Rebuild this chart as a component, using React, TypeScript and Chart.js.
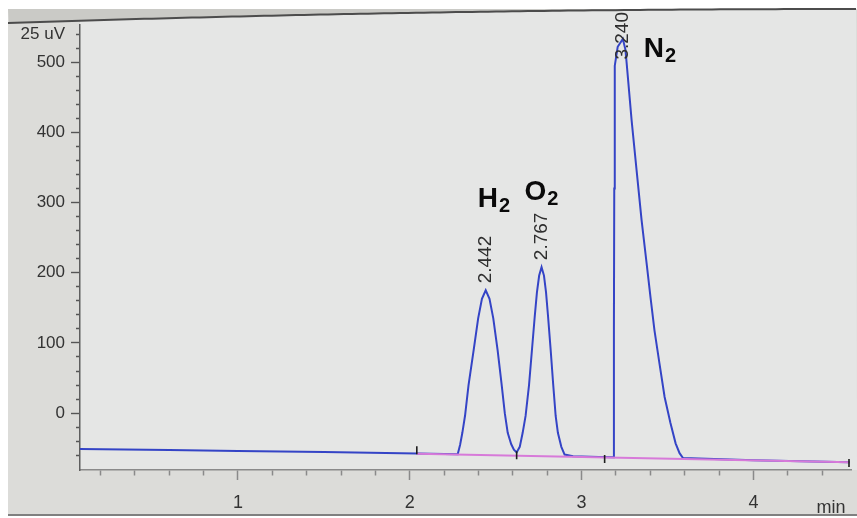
import React, { useEffect, useRef } from 'react';
import { Chart, registerables } from 'chart.js';

Chart.register(...registerables);

// Detector trace (retention time in min, signal in the instrument's display units)
const traceTimes = [
  0.081, 0.6, 1.0, 1.5, 2.041, 2.279,
  2.293, 2.306, 2.322, 2.342, 2.372, 2.398, 2.42, 2.442, 2.464, 2.486, 2.511, 2.534, 2.553, 2.57, 2.59, 2.606, 2.622,
  2.64, 2.657, 2.674, 2.694, 2.711, 2.727, 2.74, 2.753, 2.767, 2.781, 2.793, 2.805, 2.82, 2.834, 2.849, 2.862, 2.882, 2.901,
  2.95, 3.1, 3.186,
  3.188, 3.19, 3.193, 3.21, 3.24, 3.255, 3.262, 3.291, 3.32, 3.349, 3.378, 3.401, 3.424, 3.453, 3.483, 3.517, 3.547, 3.57, 3.59,
  4.0, 4.56,
];
const traceValues = [
  -51, -52.5, -54, -55.5, -57.5, -58.5,
  -45, -28, -3, 40, 90, 135, 163, 175, 163, 135, 90, 42, 0, -28, -44, -52, -56,
  -48, -28, -4, 40, 90, 137, 172, 196, 208, 196, 172, 137, 90, 43, -4, -28, -48, -59,
  -61.5, -62.5, -63,
  120, 320, 495, 522, 533, 518, 499, 417, 346, 275, 214, 165, 118, 71, 23, -14, -43, -57, -64,
  -67, -70,
];

// Integration baseline
const baselineTimes = [2.041, 4.56];
const baselineValues = [-58, -70];

// Integration event marks
const eventTimes = [2.041, 2.622, 3.134, 4.556];
const eventValues = [-53, -60, -65.5, -71];

// Identified peaks
const peakTimes = [2.442, 2.767, 3.24];
const peakHeights = [175, 208, 533];
const peakNames = ['H', 'O', 'N'];
const peakSubscripts = ['2', '2', '2'];

// Axis text
const yUnitLabel = '25 uV';
const yUnitTick = 540;
const xUnitLabel = 'min';

const FONT = '"Liberation Sans", Arial, sans-serif';
const W = 857;
const H = 518;

// top edge of the screen bezel, slightly tilted
const bezelY = (x: number) => {
  const t = Math.min(Math.max((x - 8) / 849, 0), 1);
  return 23 - 14 * (1 - (1 - t) * (1 - t));
};

const backdrop = {
  id: 'backdrop',
  beforeDraw(chart: any) {
    const { ctx, chartArea } = chart;
    ctx.save();
    ctx.fillStyle = '#ffffff';
    ctx.fillRect(0, 0, W, H);
    // screen panel
    ctx.fillStyle = '#dcdcd9';
    ctx.fillRect(8, 9, W - 8, 507);
    // plot panel, from the bezel line down to the axis
    ctx.fillStyle = '#e5e6e5';
    ctx.beginPath();
    ctx.moveTo(chartArea.left, bezelY(chartArea.left));
    for (let x = chartArea.left; x <= W; x += 8) ctx.lineTo(x, bezelY(x));
    ctx.lineTo(W, chartArea.bottom);
    ctx.lineTo(chartArea.left, chartArea.bottom);
    ctx.closePath();
    ctx.fill();
    // bezel band above the frame line
    ctx.fillStyle = '#cacac6';
    ctx.beginPath();
    ctx.moveTo(8, 9);
    ctx.lineTo(W, 9);
    for (let x = W; x >= 8; x -= 8) ctx.lineTo(x, bezelY(x));
    ctx.closePath();
    ctx.fill();
    // frame line
    ctx.strokeStyle = '#4c4c4c';
    ctx.lineWidth = 2;
    ctx.beginPath();
    for (let x = 8; x <= W; x += 8) {
      if (x === 8) ctx.moveTo(x, bezelY(x));
      else ctx.lineTo(x, bezelY(x));
    }
    ctx.stroke();
    // bottom edge
    ctx.strokeStyle = '#808080';
    ctx.lineWidth = 2;
    ctx.beginPath();
    ctx.moveTo(8, 515);
    ctx.lineTo(W, 515);
    ctx.stroke();
    ctx.restore();
  },
};

const peakText = {
  id: 'peakText',
  afterDatasetsDraw(chart: any) {
    const { ctx } = chart;
    const xs = chart.scales.x;
    const ys = chart.scales.y;
    const nameOffsets = [
      [-8, -83],
      [-17, -67],
      [21, 18],
    ];
    ctx.save();
    peakTimes.forEach((t, i) => {
      const px = xs.getPixelForValue(t);
      const py = ys.getPixelForValue(peakHeights[i]);
      // retention time, rotated, above the apex
      const txt = t.toFixed(3);
      ctx.font = `19px ${FONT}`;
      const len = ctx.measureText(txt).width;
      let start = py - 7;
      if (start - len < 12) start = 12 + len;
      ctx.save();
      ctx.translate(px, start);
      ctx.rotate(-Math.PI / 2);
      ctx.textAlign = 'left';
      ctx.textBaseline = 'middle';
      ctx.fillStyle = '#2e2e2e';
      ctx.fillText(txt, 0, 0);
      ctx.restore();
      // compound name with subscript
      const [dx, dy] = nameOffsets[i];
      const nx = px + dx;
      const ny = py + dy;
      ctx.fillStyle = '#0a0a0a';
      ctx.textAlign = 'left';
      ctx.textBaseline = 'alphabetic';
      ctx.font = `bold 28px ${FONT}`;
      ctx.fillText(peakNames[i], nx, ny);
      const w = ctx.measureText(peakNames[i]).width;
      ctx.font = `bold 20px ${FONT}`;
      ctx.fillText(peakSubscripts[i], nx + w + 1, ny + 5);
    });
    // time unit at the end of the ruler
    ctx.font = `18px ${FONT}`;
    ctx.fillStyle = '#333333';
    ctx.textAlign = 'right';
    ctx.textBaseline = 'middle';
    ctx.fillText(xUnitLabel, xs.right - 6, 508);
    ctx.restore();
  },
};

export default function App() {
  const canvasRef = useRef<HTMLCanvasElement | null>(null);

  useEffect(() => {
    if (!canvasRef.current) return;
    const chart = new Chart(canvasRef.current, {
      type: 'line',
      data: {
        datasets: [
          {
            type: 'scatter',
            data: eventTimes.map((t, i) => ({ x: t, y: eventValues[i] })),
            pointStyle: 'line',
            rotation: 90,
            pointRadius: 4,
            borderColor: '#1e1e1e',
            borderWidth: 1.6,
            showLine: false,
          },
          {
            data: baselineTimes.map((t, i) => ({ x: t, y: baselineValues[i] })),
            borderColor: '#d77ad9',
            borderWidth: 2,
            pointRadius: 0,
            tension: 0,
          },
          {
            data: traceTimes.map((t, i) => ({ x: t, y: traceValues[i] })),
            borderColor: '#3444c6',
            borderWidth: 2,
            pointRadius: 0,
            tension: 0,
          },
        ],
      } as any,
      options: {
        responsive: false,
        maintainAspectRatio: false,
        animation: false,
        layout: { padding: { left: 8, right: 5, top: 25, bottom: 8 } },
        plugins: {
          legend: { display: false },
          tooltip: { enabled: false },
        },
        scales: {
          x: {
            type: 'linear',
            min: 0.081,
            max: 4.57,
            afterFit: (s: any) => {
              s.height = 40;
            },
            afterBuildTicks: (s: any) => {
              const ticks = [];
              for (let i = 1; i <= 22; i++) ticks.push({ value: i / 5 });
              s.ticks = ticks;
            },
            border: { display: true, color: '#8a8a8a', width: 1.5 },
            grid: {
              drawOnChartArea: false,
              drawTicks: true,
              tickLength: 10,
              tickColor: '#8a8a8a',
              tickWidth: 1.5,
              tickBorderDash: (c: any) => (c.tick && Number.isInteger(c.tick.value) ? [] : [5, 100]),
            },
            ticks: {
              autoSkip: false,
              maxRotation: 0,
              padding: 12,
              color: '#333333',
              font: { family: FONT, size: 18 },
              callback: (v: any) => (Number.isInteger(v) ? String(v) : ''),
            },
          },
          y: {
            type: 'linear',
            min: -81,
            max: 553,
            afterFit: (s: any) => {
              s.width = 72;
            },
            afterBuildTicks: (s: any) => {
              const ticks = [];
              for (let v = -60; v <= 540; v += 20) ticks.push({ value: v });
              s.ticks = ticks;
            },
            border: { display: true, color: '#5e5e5e', width: 1.5 },
            grid: {
              drawOnChartArea: false,
              drawTicks: true,
              tickLength: 9,
              tickColor: '#555555',
              tickWidth: 1.4,
              tickBorderDash: (c: any) => (c.tick && c.tick.value % 100 === 0 ? [] : [0, 5, 100]),
            },
            ticks: {
              autoSkip: false,
              padding: 6,
              color: '#333333',
              font: { family: FONT, size: 17 },
              callback: (v: any) => (v === yUnitTick ? yUnitLabel : v % 100 === 0 ? String(v) : ''),
            },
          },
        },
      } as any,
      plugins: [backdrop, peakText],
    });
    return () => chart.destroy();
  }, []);

  return (
    <div style={{ position: 'fixed', left: 0, top: 0, width: W, height: H, background: '#ffffff' }}>
      <canvas ref={canvasRef} width={W} height={H} style={{ display: 'block' }} />
    </div>
  );
}
